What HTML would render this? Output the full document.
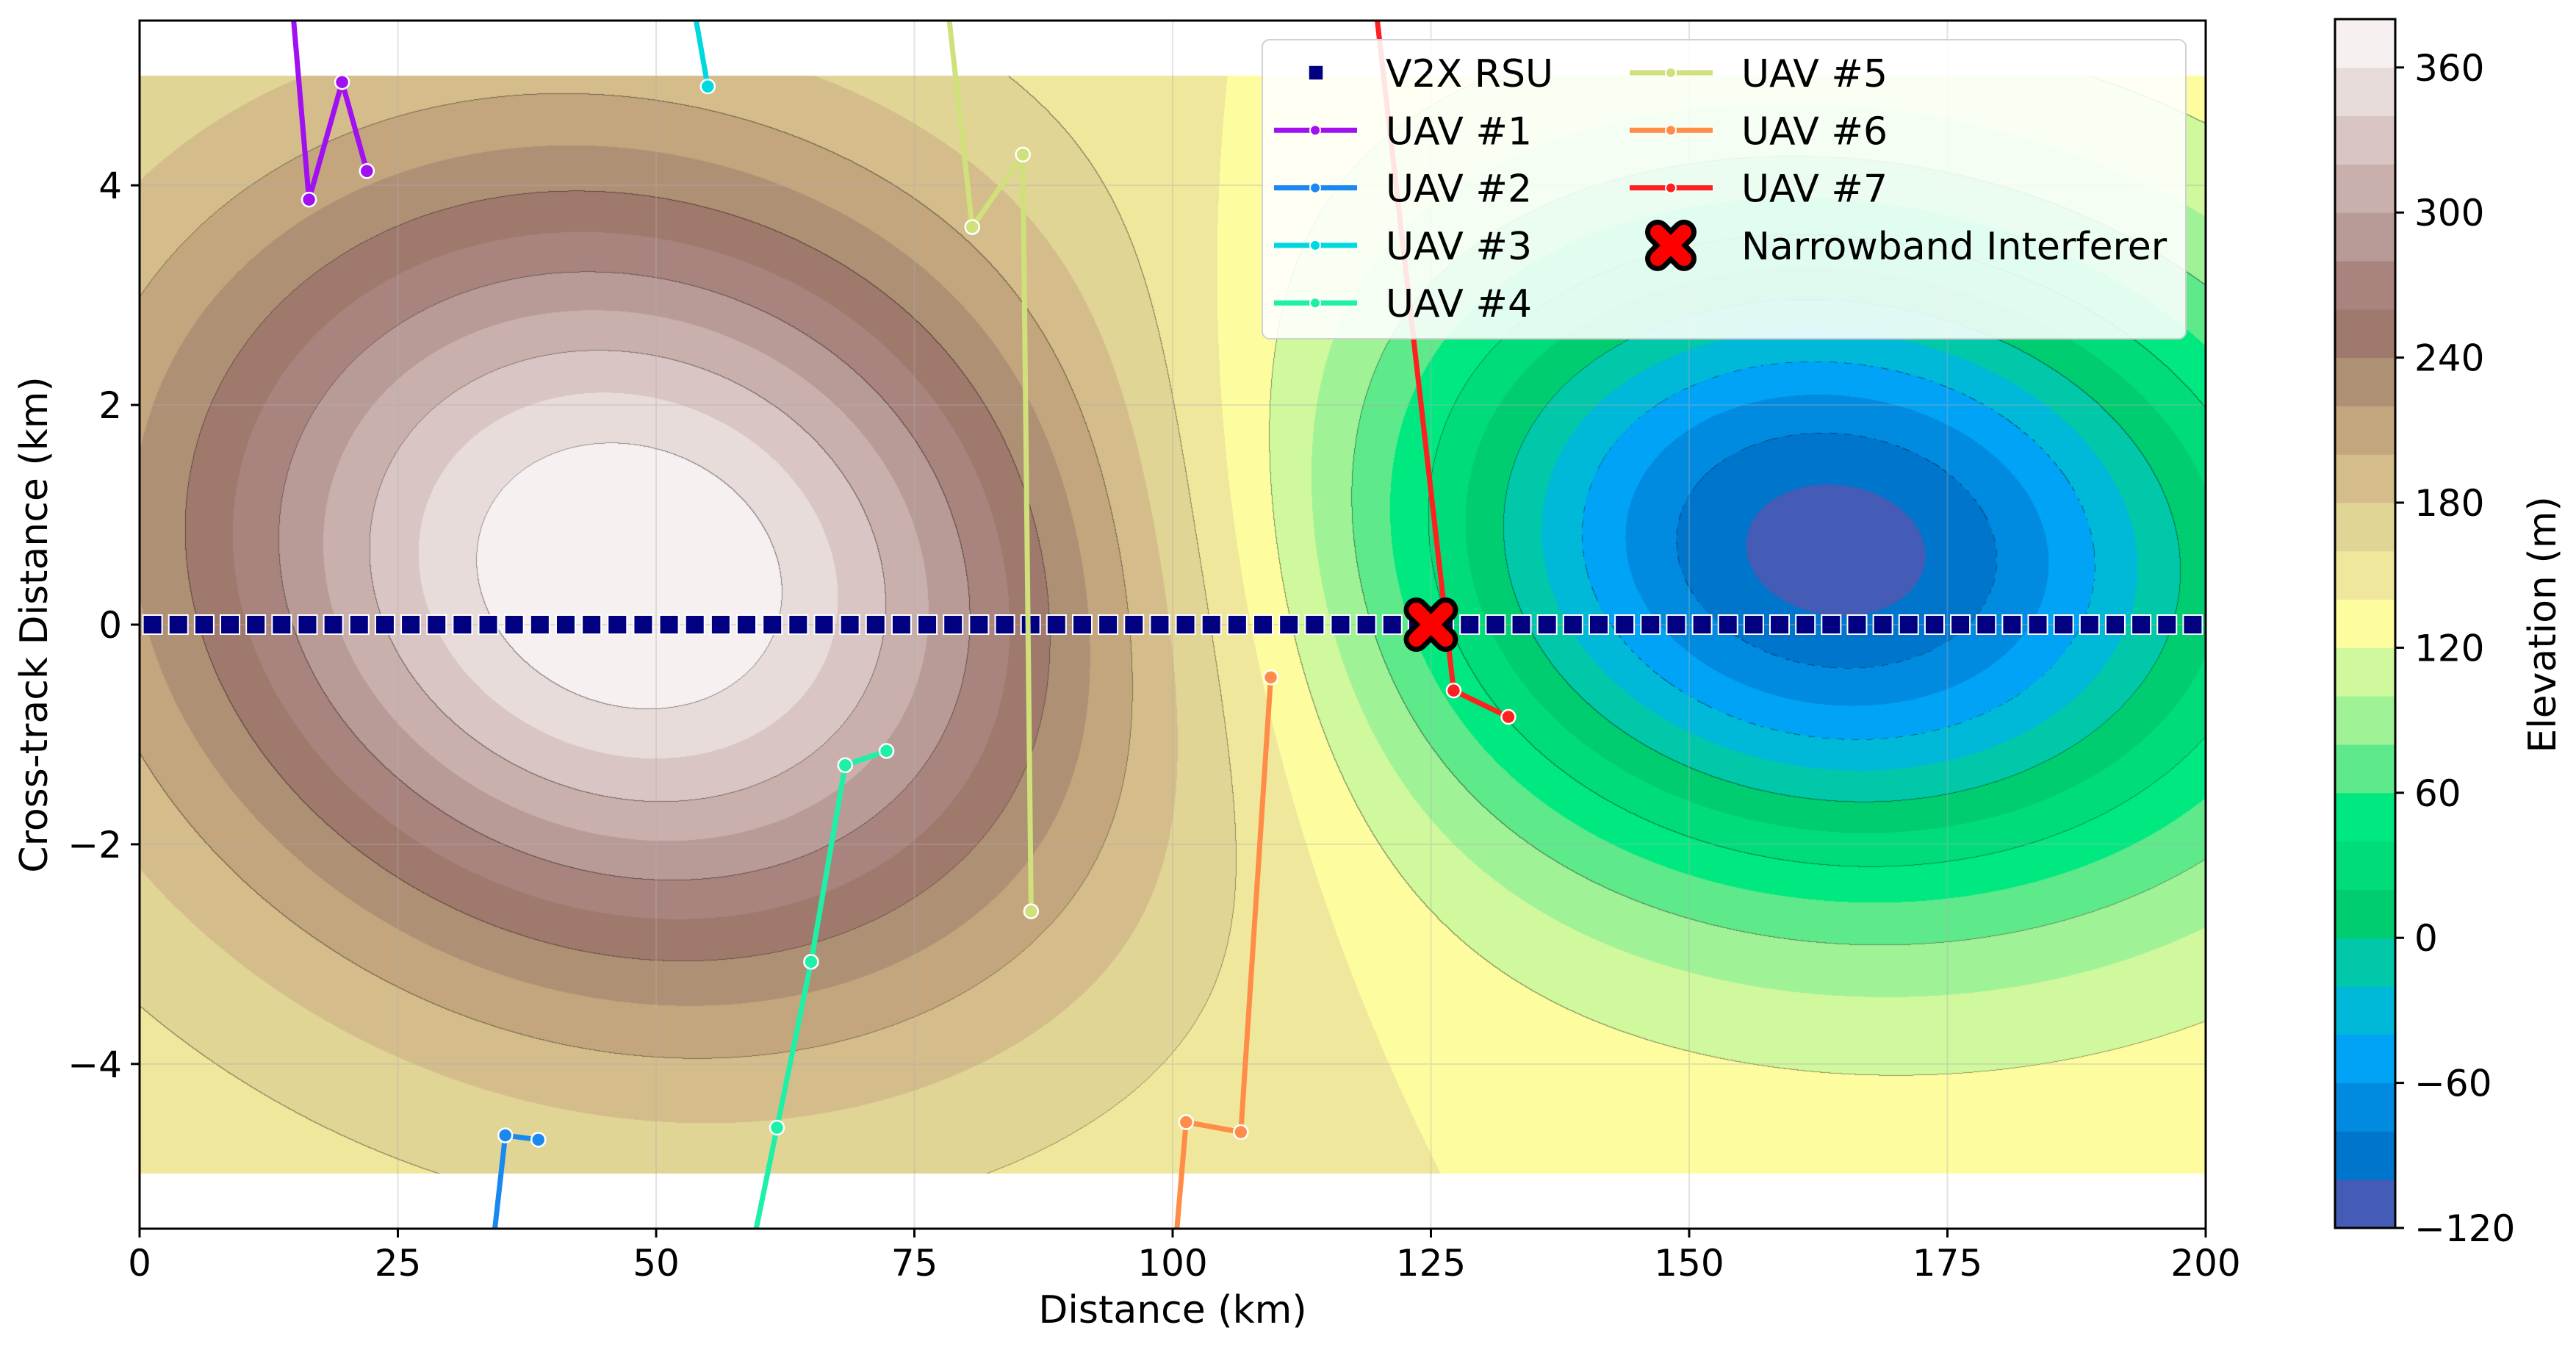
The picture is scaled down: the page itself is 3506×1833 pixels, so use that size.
<!DOCTYPE html>
<html><head><meta charset="utf-8">
<style>
html,body{margin:0;padding:0;background:#fff;}
#wrap{position:relative;width:3506px;height:1833px;overflow:hidden;font-family:"DejaVu Sans","Liberation Sans",sans-serif;}
#field{position:absolute;left:190px;top:28px;}
#svg{position:absolute;left:0;top:0;}
</style></head>
<body>
<div id="wrap">
<canvas id="field" width="2812" height="1644"></canvas>
<svg id="svg" width="3506" height="1833" xmlns="http://www.w3.org/2000/svg"></svg>
</div>
<script>
// ---- data ----
const levelStart = -120;
const levelStep = 20;
const bandColors = ["#445cb5","#0075cc","#008ae0","#00a3f5","#00b8d8","#00c8a8","#00cc70","#00dc7a","#00e880","#5ee98a","#a0f297","#d0f89c","#fdfda0","#efe89c","#e0d595","#d4bd8a","#c3a67d","#ae9075","#a0796d","#a9847e","#b89b97","#c9b0ac","#d9c6c4","#e8dcdb","#f6f1f0"];
const baseElevation = 140;
// terrain features: [centerX km, centerY km, sigmaX km, sigmaY km, tilt, amplitude m]
const hillFeature = [47.5, 0.45, 32, 2.6, 0.12, 245];
const valleyFeature = [164, 0.68, 31, 2.12, 0.08, -250];
const fieldYRange = [-5, 5];
const xTicks = [0,25,50,75,100,125,150,175,200];
const yTicks = [-4,-2,0,2,4];
const cbTicks = [-120,-60,0,60,120,180,240,300,360];
const rsuX = [];
for (let i=0;i<80;i++) rsuX.push(1.25+2.5*i);
const uavNames = ["UAV #1","UAV #2","UAV #3","UAV #4","UAV #5","UAV #6","UAV #7"];
const uavColors = ["#a010f0","#1a88f0","#00d8e0","#1ff0a8","#d0e07a","#ff8c48","#ff2020"];
const uavX = [
  [14.0,16.4,19.6,22.0],
  [33.2,35.4,38.6],
  [52.0,55.0],
  [57.5,61.7,65.0,68.3,72.3],
  [77.2,80.6,85.5,86.3],
  [99.5,101.3,106.6,109.5],
  [118.6,127.2,132.5]
];
const uavY = [
  [6.5,3.87,4.94,4.13],
  [-6.5,-4.65,-4.69],
  [6.5,4.9],
  [-6.5,-4.58,-3.07,-1.28,-1.15],
  [6.5,3.62,4.28,-2.61],
  [-6.5,-4.53,-4.62,-0.48],
  [6.5,-0.6,-0.84]
];
const interfererX = [125];
const interfererY = [0];

// ---- axes ----
const PL=190, PR=3002, PT=28, PB=1672;
const XMIN=0, XMAX=200, YMIN=-5.5, YMAX=5.5;
const sx = x => PL + (x-XMIN)/(XMAX-XMIN)*(PR-PL);
const sy = y => PB - (y-YMIN)/(YMAX-YMIN)*(PB-PT);
const CBL=3178, CBR=3260, CBB=1671;
const cbUnit = 3.29;
const cbY = v => CBB - (v-levelStart)*cbUnit;

// ---- field ----
function feat(f,x,y){
  const u=(x-f[0])/f[2], v=(y-f[1])/f[3];
  const q=u*u+v*v+2*f[4]*u*v;
  return f[5]*Math.exp(-q/2);
}
function elev(x,y){ return baseElevation + feat(hillFeature,x,y) + feat(valleyFeature,x,y); }
(function(){
  const cv=document.getElementById('field');
  const ctx=cv.getContext('2d');
  const W=cv.width,H=cv.height;
  const img=ctx.createImageData(W,H);
  const d=img.data;
  const rgb=bandColors.map(c=>[parseInt(c.slice(1,3),16),parseInt(c.slice(3,5),16),parseInt(c.slice(5,7),16)]);
  const y0=Math.round(sy(fieldYRange[1]))-PT, y1=Math.round(sy(fieldYRange[0]))-PT;
  let prev=null;
  for(let py=y0;py<y1;py++){
    const yk = YMIN + (PB-(py+PT))/(PB-PT)*(YMAX-YMIN);
    const row=new Int16Array(W);
    for(let px=0;px<W;px++){
      const xk = XMIN + px/(PR-PL)*(XMAX-XMIN);
      const z=elev(xk,yk);
      let b=Math.floor((z-levelStart)/levelStep);
      if(b<0)b=0; if(b>=bandColors.length)b=bandColors.length-1;
      const l40=Math.floor((z-levelStart)/40);
      row[px]=l40;
      let c=rgb[b];
      let r=c[0],g=c[1],bb=c[2];
      let edge=false,lev=0;
      if(px>0 && row[px-1]!==l40){edge=true;lev=Math.max(row[px-1],l40);}
      if(prev && prev[px]!==l40){edge=true;lev=Math.max(prev[px],l40);}
      if(edge){
        const lv=levelStart+lev*40;
        let draw=true;
        if(lv<0){ draw=((Math.floor(px/10)+Math.floor(py/10))%2)===0; }
        if(draw){ const a=0.4; r=r*(1-a); g=g*(1-a); bb=bb*(1-a); }
      }
      const i=(py*W+px)*4;
      d[i]=r; d[i+1]=g; d[i+2]=bb; d[i+3]=255;
    }
    prev=row;
  }
  ctx.putImageData(img,0,0);
})();

// ---- svg ----
const NS="http://www.w3.org/2000/svg";
const svg=document.getElementById('svg');
function mk(tag,attrs,parent){
  const e=document.createElementNS(NS,tag);
  for(const k in attrs) e.setAttribute(k,attrs[k]);
  (parent||svg).appendChild(e);
  return e;
}
const defs=mk('defs',{});
const cp=mk('clipPath',{id:'plotclip'},defs);
mk('rect',{x:PL,y:PT,width:PR-PL,height:PB-PT},cp);

// grid
const grid=mk('g',{opacity:0.35});


xTicks.forEach(t=>{
  const l=mk('line',{x1:sx(t),x2:sx(t),y1:PT,y2:PB,stroke:'#b0b0b0','stroke-width':2},grid);
  
  
});
yTicks.forEach(t=>{
  const l=mk('line',{x1:PL,x2:PR,y1:sy(t),y2:sy(t),stroke:'#b0b0b0','stroke-width':2},grid);
  
  
});

const plotG=mk('g',{'clip-path':'url(#plotclip)'});



// RSUs
const rsuG=mk('g',{},plotG);


rsuX.forEach(x=>{
  const r=mk('rect',{x:sx(x)-13,y:sy(0)-13,width:26,height:26,fill:'#000080',stroke:'#fff','stroke-width':2},rsuG);
  
  
});

// UAVs
uavX.forEach((xs,k)=>{
  const g=mk('g',{},plotG);
  
  
  const pts=xs.map((x,i)=>sx(x)+','+sy(uavY[k][i])).join(' ');
  const pl=mk('polyline',{points:pts,fill:'none',stroke:uavColors[k],'stroke-width':7,'stroke-linejoin':'round'},g);
  
  
  xs.forEach((x,i)=>{
    const c=mk('circle',{cx:sx(x),cy:sy(uavY[k][i]),r:9.5,fill:uavColors[k],stroke:'#fff','stroke-width':2.5},g);
    
    
  });
});

// interferer
function drawX(cx,cy,a,parent){
  const g=mk('g',{},parent);
  mk('path',{d:`M${cx-a},${cy-a}L${cx+a},${cy+a}M${cx-a},${cy+a}L${cx+a},${cy-a}`,stroke:'#000','stroke-width':34,'stroke-linecap':'round'},g);
  mk('path',{d:`M${cx-a},${cy-a}L${cx+a},${cy+a}M${cx-a},${cy+a}L${cx+a},${cy-a}`,stroke:'#ff0000','stroke-width':20,'stroke-linecap':'round'},g);
  return g;
}
interfererX.forEach((x,i)=>{
  const g=drawX(sx(x),sy(interfererY[i]),20,plotG);
  
  
});

// spines
const spine=mk('rect',{x:PL,y:PT,width:PR-PL,height:PB-PT,fill:'none',stroke:'#000','stroke-width':3});



// ticks
const FONT='"DejaVu Sans","Liberation Sans",sans-serif';
const fmt=v=>(v<0?'\u2212':'')+Math.abs(v);
xTicks.forEach(t=>{
  const l=mk('line',{x1:sx(t),x2:sx(t),y1:PB,y2:PB+12,stroke:'#000','stroke-width':3});
  
  
  const tx=mk('text',{x:sx(t),y:1736,'text-anchor':'middle','font-size':50,'font-family':FONT,fill:'#000'});
  tx.textContent=fmt(t);
  
  
});
yTicks.forEach(t=>{
  const l=mk('line',{x1:PL-12,x2:PL,y1:sy(t),y2:sy(t),stroke:'#000','stroke-width':3});
  
  
  const tx=mk('text',{x:166,y:sy(t)+18,'text-anchor':'end','font-size':50,'font-family':FONT,fill:'#000'});
  tx.textContent=fmt(t);
  
  
});
const xl=mk('text',{x:(PL+PR)/2,y:1800,'text-anchor':'middle','font-size':52,'font-family':FONT,fill:'#000'});
xl.textContent='Distance (km)';


const yl=mk('text',{x:0,y:0,'text-anchor':'middle','font-size':52,'font-family':FONT,fill:'#000',transform:`translate(64,${(PT+PB)/2}) rotate(-90)`});
yl.textContent='Cross-track Distance (km)';



// colorbar
const cbG=mk('g',{});


bandColors.forEach((c,i)=>{
  const v=levelStart+i*levelStep;
  const r=mk('rect',{x:CBL,y:cbY(v+levelStep),width:CBR-CBL,height:cbY(v)-cbY(v+levelStep)+0.5,fill:c},cbG);
  
  
});
mk('rect',{x:CBL,y:cbY(levelStart+bandColors.length*levelStep),width:CBR-CBL,height:bandColors.length*levelStep*cbUnit,fill:'none',stroke:'#000','stroke-width':3},cbG);
cbTicks.forEach(t=>{
  const l=mk('line',{x1:CBR,x2:CBR+12,y1:cbY(t),y2:cbY(t),stroke:'#000','stroke-width':3},cbG);
  
  
  const tx=mk('text',{x:3286,y:cbY(t)+18,'font-size':50,'font-family':FONT,fill:'#000'},cbG);
  tx.textContent=fmt(t);
  
  
});
const cl=mk('text',{x:0,y:0,'text-anchor':'middle','font-size':52,'font-family':FONT,fill:'#000',transform:`translate(3478,850) rotate(-90)`});
cl.textContent='Elevation (m)';



// legend
const lg=mk('g',{});


mk('rect',{x:1718,y:54,width:1257,height:407,rx:10,fill:'#fff','fill-opacity':0.88,stroke:'#d0d0d0','stroke-width':2},lg);
const rowY=i=>99+78.3*i;
function legendText(x,y,s){
  const t=mk('text',{x:x,y:y+19,'font-size':52,'font-family':FONT,fill:'#000'},lg);
  t.textContent=s;
  return t;
}
const e0=mk('rect',{x:1791-10,y:rowY(0)-10,width:20,height:20,fill:'#000080',stroke:'#fff','stroke-width':1.5},lg);


const t0=legendText(1886,rowY(0),'V2X RSU');


uavNames.forEach((n,k)=>{
  const col=k<4?0:1, row=k<4?k+1:k-4;
  const hx=col===0?1734:2218, tx=col===0?1886:2370;
  const y=rowY(row);
  const l=mk('line',{x1:hx,x2:hx+113,y1:y,y2:y,stroke:uavColors[k],'stroke-width':7},lg);
  
  
  mk('circle',{cx:hx+56,cy:y,r:7,fill:uavColors[k],stroke:'#fff','stroke-width':2},lg);
  const t=legendText(tx,y,n);
  
  
});
const lx=drawX(2274,rowY(3),18,lg);


const t7=legendText(2370,rowY(3),'Narrowband Interferer');


</script>
</body></html>
